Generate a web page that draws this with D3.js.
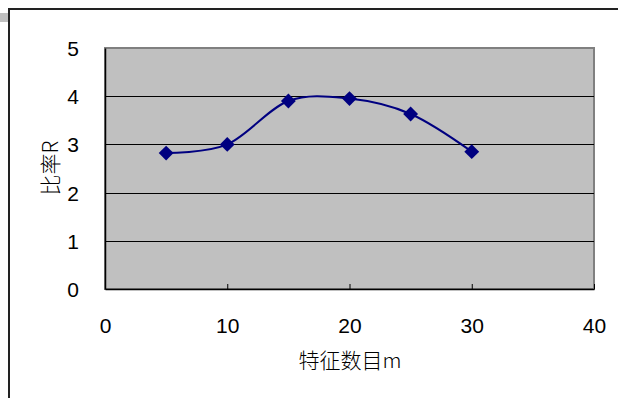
<!DOCTYPE html>
<html>
<head>
<meta charset="utf-8">
<script src="https://cdn.jsdelivr.net/npm/d3@7/dist/d3.min.js"></script>
<style>
  html, body { margin: 0; padding: 0; background: #fff; }
  svg { display: block; }
  .tick-label { font-family: "Liberation Sans", Arial, sans-serif; font-size: 21px; fill: #000; }
  .axis-title { font-family: "Noto Sans CJK SC", sans-serif; font-size: 21px; font-weight: 300; fill: #000; }
</style>
</head>
<body>
<svg id="chart" width="618" height="398"></svg>
<script>
// Feature count m vs. ratio R
const featureCounts = [5, 10, 15, 20, 25, 30];
const ratioValues   = [2.82, 3.0, 3.9, 3.95, 3.63, 2.85];
const xTicks = [0, 10, 20, 30, 40];
const yTicks = [0, 1, 2, 3, 4, 5];
const xTitle = "特征数目m";
const yTitle = "比率R";

const svg = d3.select("#chart");
const W = 618, H = 398;
const plot = { left: 105, top: 48, right: 594, bottom: 289 };

const x = d3.scaleLinear().domain([0, 40]).range([plot.left, plot.right]);
const y = d3.scaleLinear().domain([0, 5]).range([plot.bottom, plot.top]);

// outer chart frame and the small tab at the corner
svg.append("rect").attr("x", 0).attr("y", 13).attr("width", 8).attr("height", 9).attr("fill", "#c0c0c0");
svg.append("path")
  .attr("d", `M9,${H} L9,9 L${W},9`)
  .attr("fill", "none").attr("stroke", "#222").attr("stroke-width", 2);

// plot area
svg.append("rect")
  .attr("x", plot.left).attr("y", plot.top)
  .attr("width", plot.right - plot.left).attr("height", plot.bottom - plot.top)
  .attr("fill", "#c0c0c0").attr("stroke", "#808080").attr("stroke-width", 2);

// horizontal gridlines
svg.append("g").selectAll("line")
  .data(yTicks.filter(d => d > 0 && d < 5))
  .join("line")
  .attr("x1", plot.left).attr("x2", plot.right)
  .attr("y1", d => Math.round(y(d)) + 0.5).attr("y2", d => Math.round(y(d)) + 0.5)
  .attr("stroke", "#000").attr("stroke-width", 1);

// y axis (labels only, line drawn on the left edge)
const yAxis = d3.axisLeft(y).tickValues(yTicks).tickFormat(d3.format("d")).tickSize(0).tickPadding(0);
const gy = svg.append("g").attr("transform", `translate(${plot.left},0)`).call(yAxis);
gy.select(".domain").attr("stroke", "#000").attr("stroke-width", 1.5);
gy.selectAll("text").attr("class", "tick-label").attr("x", -26).attr("dy", "0.36em");
gy.attr("font-size", null).attr("font-family", null);

// x axis with inward ticks
const xAxis = d3.axisBottom(x).tickValues(xTicks).tickFormat(d3.format("d")).tickSizeInner(-5).tickSizeOuter(0).tickPadding(0);
const gx = svg.append("g").attr("transform", `translate(0,${plot.bottom})`).call(xAxis);
gx.select(".domain").attr("stroke", "#000").attr("stroke-width", 1.5);
gx.selectAll(".tick line").attr("stroke", "#000");
gx.selectAll("text").attr("class", "tick-label").attr("y", 44).attr("dy", 0);
gx.attr("font-size", null).attr("font-family", null);

// axis titles
svg.append("text").attr("class", "axis-title")
  .attr("x", 350).attr("y", 368).attr("text-anchor", "middle")
  .text(xTitle);
svg.append("text").attr("class", "axis-title")
  .attr("transform", `translate(58,168) rotate(-90)`)
  .attr("text-anchor", "middle")
  .text(yTitle);

// smoothed series line
const pts = featureCounts.map((m, i) => [m, ratioValues[i]]);
const line = d3.line()
  .x(d => x(d[0])).y(d => y(d[1]))
  .curve(d3.curveCardinal.tension(0));
svg.append("path")
  .datum(pts)
  .attr("d", line)
  .attr("fill", "none").attr("stroke", "#000080").attr("stroke-width", 2);

// diamond markers
const diamond = d3.symbol().type(d3.symbolSquare).size(110);
svg.append("g").selectAll("path")
  .data(pts)
  .join("path")
  .attr("d", diamond)
  .attr("transform", d => `translate(${x(d[0])},${y(d[1])}) rotate(45)`)
  .attr("fill", "#000080");
</script>
</body>
</html>
